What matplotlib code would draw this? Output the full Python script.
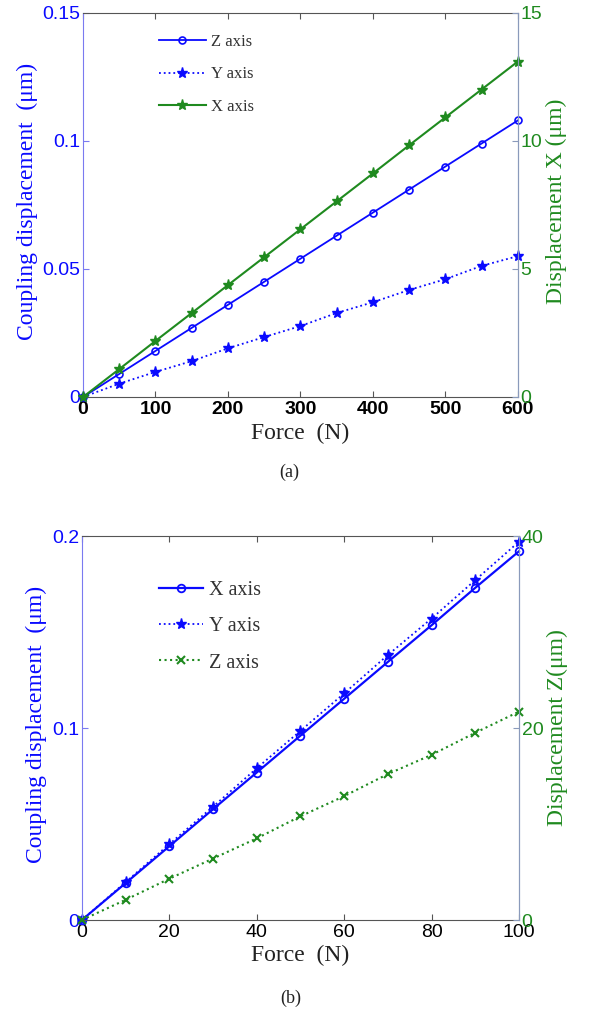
import matplotlib
matplotlib.use('Agg')
import matplotlib.pyplot as plt
from matplotlib.ticker import FuncFormatter

# (a) force 0..600 N
force_a = [0, 50, 100, 150, 200, 250, 300, 350, 400, 450, 500, 550, 600]
z_coupling_a = [0, 0.009, 0.018, 0.027, 0.036, 0.045, 0.054, 0.063, 0.072, 0.081, 0.090, 0.099, 0.108]
y_coupling_a = [0, 0.0052, 0.0098, 0.014, 0.019, 0.0234, 0.0277, 0.0328, 0.037, 0.0418, 0.046, 0.0512, 0.055]
x_disp_a = [0, 1.09, 2.19, 3.28, 4.37, 5.46, 6.55, 7.64, 8.73, 9.83, 10.92, 12.01, 13.1]

# (b) force 0..100 N
force_b = [0, 10, 20, 30, 40, 50, 60, 70, 80, 90, 100]
x_coupling_b = [0, 0.0192, 0.0384, 0.0577, 0.0768, 0.096, 0.1152, 0.1344, 0.1535, 0.173, 0.192]
y_coupling_b = [0, 0.0197, 0.0395, 0.059, 0.079, 0.0985, 0.118, 0.138, 0.157, 0.177, 0.197]
z_disp_b = [0, 2.1, 4.3, 6.4, 8.5, 10.8, 12.9, 15.2, 17.2, 19.5, 21.7]

BLUE = '#0a0aff'
GREEN = '#1f8a1f'
SERIF = 'Liberation Serif'
SANS = 'Liberation Sans'

fmt = FuncFormatter(lambda v, p: '%g' % round(v, 6))


def style_axes(ax, ax2, bold_x):
    ax.spines['left'].set_color('#7a7af0')
    ax.spines['top'].set_color('#555555')
    ax.spines['bottom'].set_color('#555555')
    ax.spines['right'].set_color('#8a9abb')
    ax2.spines['right'].set_color('#8a9abb')
    ax2.spines['left'].set_visible(False)
    ax2.spines['top'].set_visible(False)
    ax2.spines['bottom'].set_visible(False)
    ax.tick_params(axis='x', direction='in', top=True, length=4, pad=3,
                   labelsize=14, colors='#555555', labelcolor='black')
    ax.tick_params(axis='y', direction='in', length=4, pad=2,
                   labelsize=14, colors='#7a7af0', labelcolor=BLUE)
    ax2.tick_params(axis='y', direction='in', length=4, pad=2,
                    labelsize=14, colors='#8a9abb', labelcolor=GREEN)
    for lab in ax.get_xticklabels() + ax.get_yticklabels() + ax2.get_yticklabels():
        lab.set_fontfamily(SANS)
    if bold_x:
        for lab in ax.get_xticklabels():
            lab.set_fontweight('bold')
    ax.yaxis.set_major_formatter(fmt)
    ax2.yaxis.set_major_formatter(fmt)


fig = plt.figure(figsize=(5.89, 10.14), dpi=100)
fig.patch.set_facecolor('white')

# ---------- (a) ----------
ax = fig.add_axes([0.141, 0.6085, 0.738, 0.3787])
ax2 = ax.twinx()
l1, = ax.plot(force_a, z_coupling_a, '-', color=BLUE, lw=1.3, marker='o', ms=5,
              mfc='none', mec=BLUE, mew=1.2, clip_on=False, label='Z axis')
l2, = ax.plot(force_a, y_coupling_a, ':', color=BLUE, lw=1.3, marker='*', ms=8,
              mfc=BLUE, mec=BLUE, clip_on=False, label='Y axis')
l3, = ax2.plot(force_a, x_disp_a, '-', color=GREEN, lw=1.5, marker='*', ms=8,
               mfc=GREEN, mec=GREEN, clip_on=False, label='X axis')
ax.set_xlim(0, 600)
ax.set_ylim(0, 0.15)
ax2.set_ylim(0, 15)
ax.set_xticks([0, 100, 200, 300, 400, 500, 600])
ax.set_yticks([0, 0.05, 0.1, 0.15])
ax2.set_yticks([0, 5, 10, 15])
style_axes(ax, ax2, bold_x=True)
ax.set_xlabel('Force  (N)', family=SERIF, fontsize=17, color='#222222')
ax.xaxis.set_label_coords(0.5, -0.068)
ax.set_ylabel('Coupling displacement  (μm)', family=SERIF, fontsize=17, color=BLUE)
ax.yaxis.set_label_coords(-0.103, 0.51)
ax2.set_ylabel('Displacement X (μm)', family=SERIF, fontsize=17, color=GREEN)
ax2.yaxis.set_label_coords(1.064, 0.51)
leg = ax2.legend(handles=[l1, l2, l3], loc='upper left', bbox_to_anchor=(0.14, 0.985),
                 frameon=False, prop={'family': SERIF, 'size': 12},
                 handlelength=2.8, labelspacing=1.0, handletextpad=0.3)
for t in leg.get_texts():
    t.set_color('#333333')
fig.text(0.491, 1 - 472 / 1014, '(a)', family=SERIF, fontsize=13,
         ha='center', va='center', color='#222222')

# ---------- (b) ----------
bx = fig.add_axes([0.139, 0.0927, 0.742, 0.3787])
bx2 = bx.twinx()
m1, = bx.plot(force_b, x_coupling_b, '-', color=BLUE, lw=1.6, marker='o', ms=5.5,
              mfc='none', mec=BLUE, mew=1.3, clip_on=False, label='X axis')
m2, = bx.plot(force_b, y_coupling_b, ':', color=BLUE, lw=1.3, marker='*', ms=8,
              mfc=BLUE, mec=BLUE, clip_on=False, label='Y axis')
m3, = bx2.plot(force_b, z_disp_b, ':', color=GREEN, lw=1.5, marker='x', ms=6,
               mew=1.5, clip_on=False, label='Z axis')
bx.set_xlim(0, 100)
bx.set_ylim(0, 0.2)
bx2.set_ylim(0, 40)
bx.set_xticks([0, 20, 40, 60, 80, 100])
bx.set_yticks([0, 0.1, 0.2])
bx2.set_yticks([0, 20, 40])
style_axes(bx, bx2, bold_x=False)
bx.set_xlabel('Force  (N)', family=SERIF, fontsize=17, color='#222222')
bx.xaxis.set_label_coords(0.5, -0.065)
bx.set_ylabel('Coupling displacement  (μm)', family=SERIF, fontsize=17, color=BLUE)
bx.yaxis.set_label_coords(-0.080, 0.51)
bx2.set_ylabel('Displacement Z(μm)', family=SERIF, fontsize=17, color=GREEN)
bx2.yaxis.set_label_coords(1.064, 0.5)
leg = bx2.legend(handles=[m1, m2, m3], loc='upper left', bbox_to_anchor=(0.135, 0.93),
                 frameon=False, prop={'family': SERIF, 'size': 14.5},
                 handlelength=2.2, labelspacing=0.85, handletextpad=0.3)
for t in leg.get_texts():
    t.set_color('#333333')
fig.text(0.493, 1 - 998 / 1014, '(b)', family=SERIF, fontsize=13,
         ha='center', va='center', color='#222222')

fig.savefig('out.png', dpi=100, facecolor='white')
